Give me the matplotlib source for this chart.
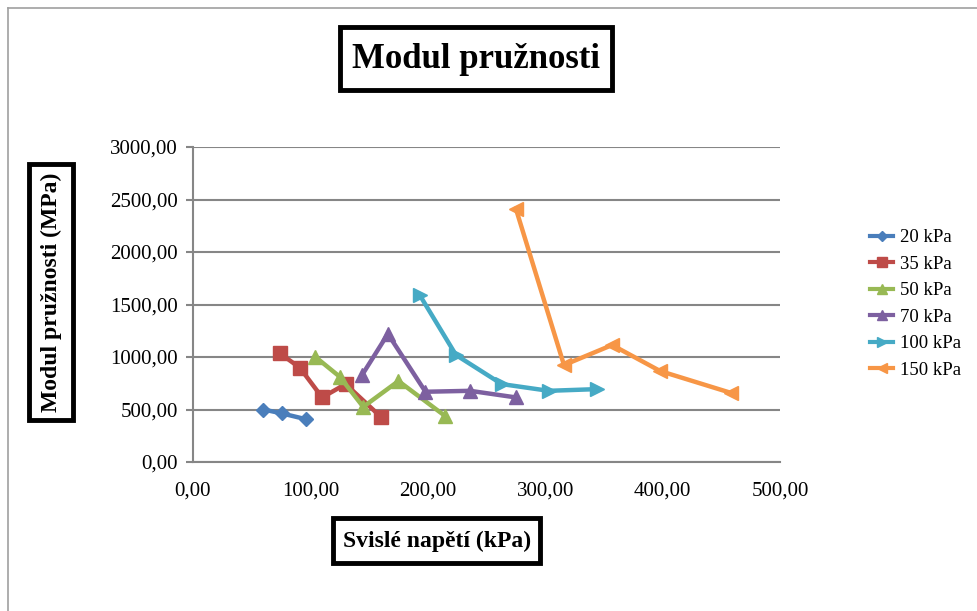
import matplotlib.pyplot as plt
from matplotlib.patches import Rectangle
from matplotlib.lines import Line2D

# data
x_20 = [60, 76, 96]
y_20 = [500, 462, 408]
x_35 = [74, 91, 110, 130, 160]
y_35 = [1035, 898, 615, 742, 430]
x_50 = [104, 125, 145, 175, 215]
y_50 = [1003, 812, 525, 771, 436]
x_70 = [144, 166, 198, 236, 275]
y_70 = [828, 1220, 669, 678, 615]
x_100 = [193, 224, 263, 303, 344]
y_100 = [1592, 1019, 742, 678, 694]
x_150 = [275, 316, 357, 398, 458]
y_150 = [2413, 923, 1114, 866, 659]

labels = ['20 kPa', '35 kPa', '50 kPa', '70 kPa', '100 kPa', '150 kPa']
colors = ['#4A7EBB', '#BE4B48', '#98B954', '#7D60A0', '#46AAC5', '#F79646']
markers = ['D', 's', '^', '^', '>', '<']
msizes = [7, 10, 10, 10, 10, 10]

plt.rcParams['font.family'] = ['Liberation Serif', 'DejaVu Serif']

fig = plt.figure(figsize=(9.78, 6.11), dpi=100)
W, H = 978, 611


def fx(px):
    return px / W


def fy(py):
    return 1 - py / H


ax = fig.add_axes([fx(193), fy(462), fx(780) - fx(193), fy(147) - fy(462)])

series = [(x_20, y_20), (x_35, y_35), (x_50, y_50), (x_70, y_70), (x_100, y_100), (x_150, y_150)]
for (xs, ys), lab, c, m, ms in zip(series, labels, colors, markers, msizes):
    ax.plot(xs, ys, color=c, lw=3.2, marker=m, ms=ms, mec=c, mfc=c, label=lab,
            solid_joinstyle='miter', zorder=3)

ax.set_xlim(0, 500)
ax.set_ylim(0, 3000)
ax.set_xticks(range(0, 501, 100))
ax.set_yticks(range(0, 3001, 500))
fmt = lambda v: ('%.2f' % v).replace('.', ',')
ax.set_xticklabels([fmt(v) for v in range(0, 501, 100)])
ax.set_yticklabels([fmt(v) for v in range(0, 3001, 500)])
ax.tick_params(axis='y', length=5, width=1.5, color='#868686', labelsize=15, pad=6)
ax.tick_params(axis='x', length=0, labelsize=15, pad=14)
ax.grid(axis='y', color='#868686', lw=1.5)
ax.set_axisbelow(True)
for s in ['top', 'right']:
    ax.spines[s].set_visible(False)
for s in ['left', 'bottom']:
    ax.spines[s].set_color('#868686')
    ax.spines[s].set_linewidth(1.5)

# legend
handles = [Line2D([0], [0], color=c, lw=3, marker=m, ms=ms * 0.7, mec=c, mfc=c)
           for c, m, ms in zip(colors, markers, msizes)]
fig.legend(handles, labels, loc='center left', bbox_to_anchor=(fx(853), fy(304)),
           frameon=False, fontsize=13.5, handlelength=1.25, handletextpad=0.35,
           labelspacing=0.5)

# outer chart border
fig.add_artist(Line2D([fx(8), 1], [fy(8), fy(8)], color='#a0a0a0', lw=1.2))
fig.add_artist(Line2D([fx(8), fx(8)], [fy(8), 0], color='#a0a0a0', lw=1.2))

# boxed title and axis titles
boxes = [(340, 27, 612, 90), (29, 164, 73, 420), (333, 518, 540, 563)]
for x0, y0, x1, y1 in boxes:
    fig.add_artist(Rectangle((fx(x0), fy(y1)), fx(x1) - fx(x0), fy(y0) - fy(y1),
                             fill=False, ec='black', lw=3.5))

fig.text(fx(476), fy(59), 'Modul pružnosti', ha='center', va='center',
         fontsize=25, fontweight='bold')
fig.text(fx(51), fy(292), 'Modul pružnosti (MPa)', ha='center', va='center',
         rotation=90, fontsize=17, fontweight='bold')
fig.text(fx(437), fy(541), 'Svislé napětí (kPa)', ha='center', va='center',
         fontsize=17, fontweight='bold')

fig.savefig('out.png', dpi=100)
